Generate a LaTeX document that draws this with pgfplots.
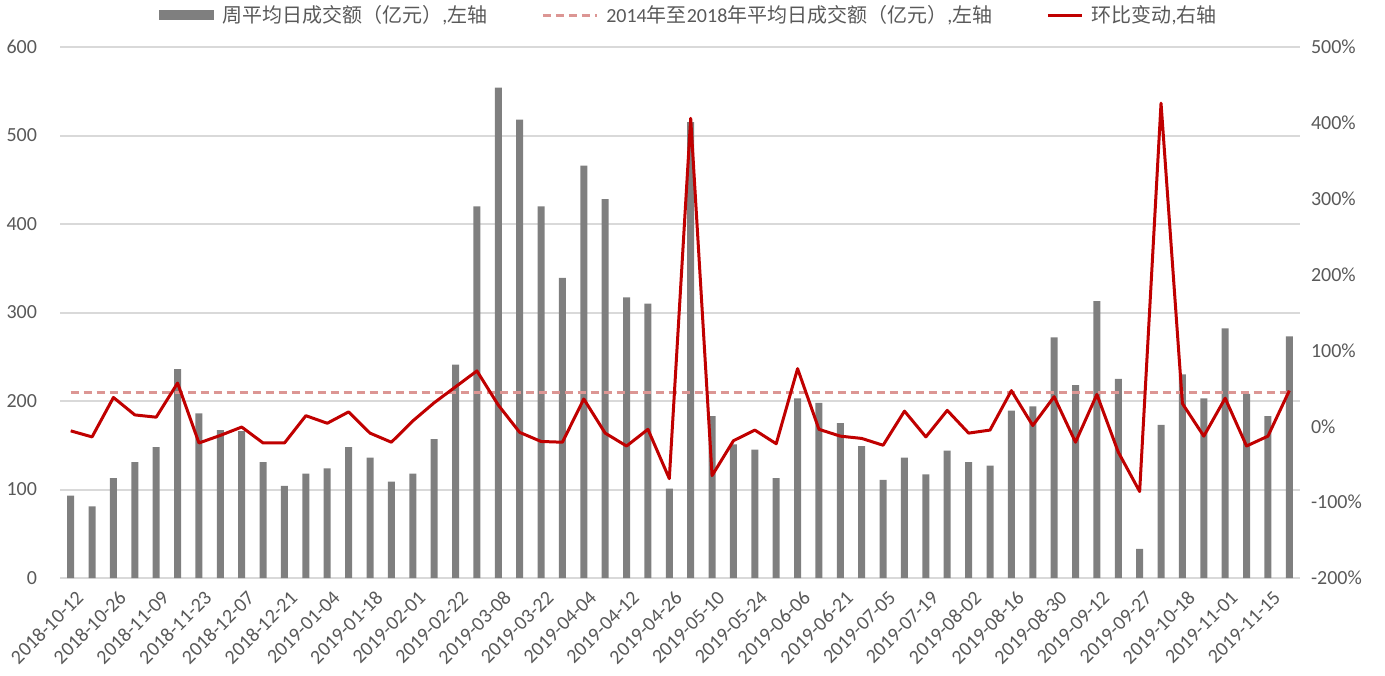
\documentclass[border=0pt]{standalone}
\usepackage{fontspec}
\setmainfont{Carlito}
\newfontfamily\cjk{Noto Sans CJK SC}
\usepackage{pgfplots}
\usepackage{pgfplotstable}
\pgfplotsset{compat=1.18}

\definecolor{barcol}{RGB}{127,127,127}
\definecolor{avgcol}{RGB}{220,150,148}
\definecolor{chgcol}{RGB}{192,0,0}
\definecolor{gridcol}{RGB}{217,217,217}
\definecolor{txtcol}{RGB}{89,89,89}

% week index, avg daily turnover (100m CNY), week-on-week change (%)
\pgfplotstableread{
idx amt chg
0 93 -6
1 81 -14
2 113 38
3 131 15
4 148 12
5 236 57
6 186 -22
7 167 -12
8 166 -1
9 131 -22
10 104 -22
11 118 14
12 124 4
13 148 19
14 136 -9
15 109 -21
16 118 7
17 157 31
18 241 52
19 420 73
20 554 28
21 518 -8
22 420 -20
23 339 -21
24 466 36
25 428 -9
26 317 -26
27 310 -4
28 101 -69
29 515 406
30 183 -65
31 151 -19
32 145 -5
33 113 -23
34 203 76
35 198 -4
36 175 -13
37 149 -16
38 111 -25
39 136 20
40 117 -14
41 144 21
42 131 -9
43 127 -5
44 189 47
45 194 1
46 272 39
47 218 -21
48 313 42
49 225 -34
50 33 -86
51 173 426
52 230 30
53 203 -13
54 282 37
55 208 -26
56 183 -13
57 273 47
}\weekly

\pgfplotsset{
  twin/.style={
    scale only axis, width=620pt, height=265.5pt,
    xmin=-0.5, xmax=57.5,
    major tick length=0pt,
    axis line style={draw=none},
    tick label style={font=\fontsize{10}{12}\selectfont, text=txtcol},
    /pgf/number format/assume math mode=true,
  },
}

\begin{document}
\begin{tikzpicture}
\begin{axis}[
  twin,
  ymin=0, ymax=600, ytick={0,100,...,600},
  ymajorgrids, grid style={draw=gridcol, line width=1pt},
  xtick={0,2,...,56},
  xticklabels={2018-10-12,2018-10-26,2018-11-09,2018-11-23,2018-12-07,
    2018-12-21,2019-01-04,2019-01-18,2019-02-01,2019-02-22,2019-03-08,
    2019-03-22,2019-04-04,2019-04-12,2019-04-26,2019-05-10,2019-05-24,
    2019-06-06,2019-06-21,2019-07-05,2019-07-19,2019-08-02,2019-08-16,
    2019-08-30,2019-09-12,2019-09-27,2019-10-18,2019-11-01,2019-11-15},
  xticklabel style={rotate=45, anchor=east, xshift=1pt, yshift=-9pt},
  yticklabel style={xshift=-8pt},
]
\addplot[ybar, bar width=3.5pt, fill=barcol, draw=none]
  table[x=idx, y=amt]{\weekly};
\addplot[avgcol, line width=1.5pt, dash pattern=on 4pt off 2.5pt]
  coordinates {(0,210) (57,210)};
\end{axis}

\begin{axis}[
  twin,
  axis x line=none, axis y line*=right,
  ymin=-200, ymax=500, ytick={-200,-100,...,500},
  yticklabel={\pgfmathprintnumber{\tick}\%},
  yticklabel style={xshift=2pt},
  legend columns=-1,
  legend cell align=left,
  legend style={at={(0.5,1)}, anchor=center, xshift=5pt, yshift=16pt,
    draw=none, fill=none, text=txtcol,
    font=\fontsize{10}{12}\selectfont,
    /tikz/every even column/.append style={column sep=25pt}},
]
\addlegendimage{legend image code/.code={
  \fill[barcol] (0pt,-2.2pt) rectangle (27pt,2.2pt);}}
\addlegendentry{\hspace{2pt}{\cjk 周平均日成交额（亿元）},{\cjk 左轴}}
\addlegendimage{legend image code/.code={
  \draw[avgcol, line width=1.5pt, dash pattern=on 4pt off 2.5pt]
    (0pt,0pt) -- (27pt,0pt);}}
\addlegendentry{\hspace{2pt}2014{\cjk 年至}2018{\cjk 年平均日成交额（亿元）},{\cjk 左轴}}
\addplot[chgcol, line width=1.5pt, line join=round]
  table[x=idx, y=chg]{\weekly};
\addlegendentry{\hspace{2pt}{\cjk 环比变动},{\cjk 右轴}}
\end{axis}
\pgfresetboundingbox
\path[use as bounding box] (-30pt,-48.5pt) rectangle (662.5pt,289pt);
\end{tikzpicture}
\end{document}
